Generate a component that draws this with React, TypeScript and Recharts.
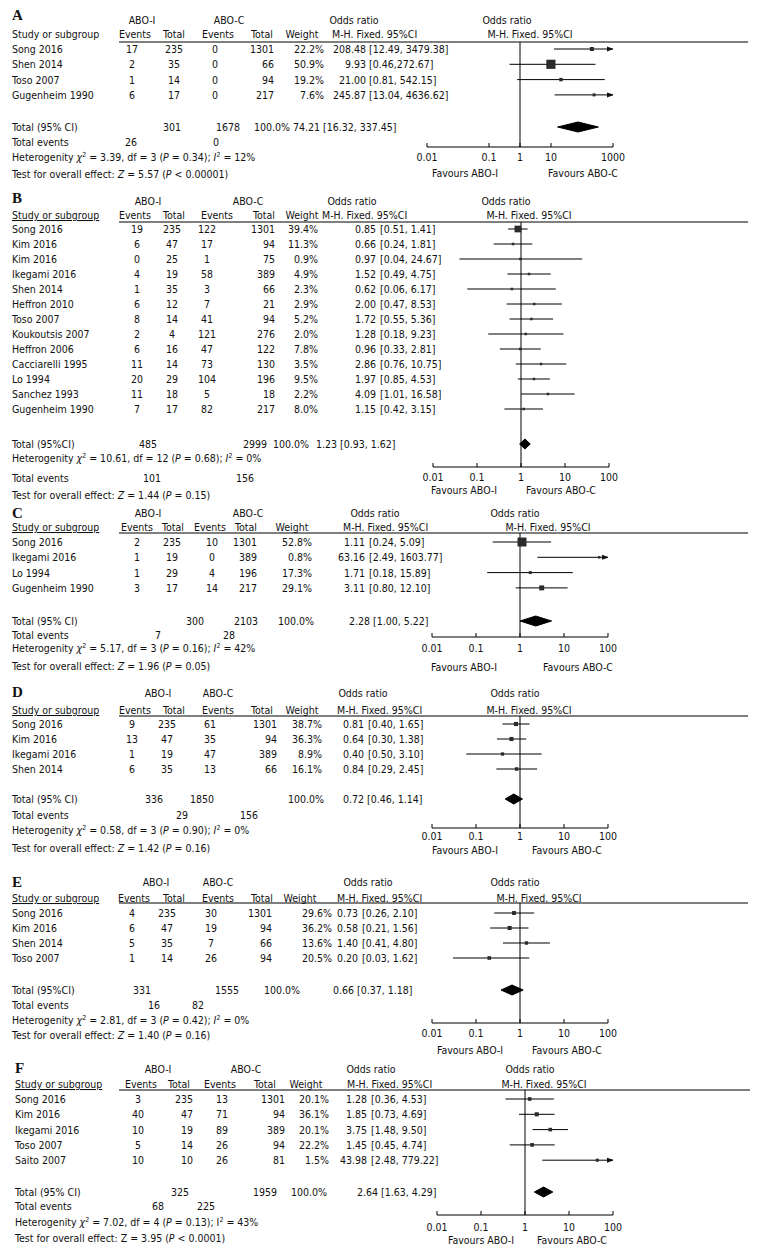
import React from 'react';
import { ComposedChart, Scatter, XAxis, YAxis, ReferenceLine } from 'recharts';

const FONT = '"DejaVu Sans Condensed", "DejaVu Sans", Verdana, sans-serif';
const FS = 10.5;
const INK = '#111';

// ---------- Panel A ----------
const studiesA = ['Song 2016', 'Shen 2014', 'Toso 2007', 'Gugenheim 1990'];
const eventsIA = [17, 2, 1, 6];
const totalIA = [235, 35, 14, 17];
const eventsCA = [0, 0, 0, 0];
const totalCA = [1301, 66, 94, 217];
const weightA = [22.2, 50.9, 19.2, 7.6];
const orA = [208.48, 9.93, 21.0, 245.87];
const loA = [12.49, 0.46, 0.81, 13.04];
const hiA = [3479.38, 272.67, 542.15, 4636.62];
const ciLabelsA = ['[12.49, 3479.38]', '[0.46,272.67]', '[0.81, 542.15]', '[13.04, 4636.62]'];

// ---------- Panel B ----------
const studiesB = ['Song 2016', 'Kim 2016', 'Kim 2016', 'Ikegami 2016', 'Shen 2014', 'Heffron 2010', 'Toso 2007', 'Koukoutsis 2007', 'Heffron 2006', 'Cacciarelli 1995', 'Lo 1994', 'Sanchez 1993', 'Gugenheim 1990'];
const eventsIB = [19, 6, 0, 4, 1, 6, 8, 2, 6, 11, 20, 11, 7];
const totalIB = [235, 47, 25, 19, 35, 12, 14, 4, 16, 14, 29, 18, 17];
const eventsCB = [122, 17, 1, 58, 3, 7, 41, 121, 47, 73, 104, 5, 82];
const totalCB = [1301, 94, 75, 389, 66, 21, 94, 276, 122, 130, 196, 18, 217];
const weightB = [39.4, 11.3, 0.9, 4.9, 2.3, 2.9, 5.2, 2.0, 7.8, 3.5, 9.5, 2.2, 8.0];
const orB = [0.85, 0.66, 0.97, 1.52, 0.62, 2.0, 1.72, 1.28, 0.96, 2.86, 1.97, 4.09, 1.15];
const loB = [0.51, 0.24, 0.04, 0.49, 0.06, 0.47, 0.55, 0.18, 0.33, 0.76, 0.85, 1.01, 0.42];
const hiB = [1.41, 1.81, 24.67, 4.75, 6.17, 8.53, 5.36, 9.23, 2.81, 10.75, 4.53, 16.58, 3.15];

// ---------- Panel C ----------
const studiesC = ['Song 2016', 'Ikegami 2016', 'Lo 1994', 'Gugenheim 1990'];
const eventsIC = [2, 1, 1, 3];
const totalIC = [235, 19, 29, 17];
const eventsCC = [10, 0, 4, 14];
const totalCC = [1301, 389, 196, 217];
const weightC = [52.8, 0.8, 17.3, 29.1];
const orC = [1.11, 63.16, 1.71, 3.11];
const loC = [0.24, 2.49, 0.18, 0.8];
const hiC = [5.09, 1603.77, 15.89, 12.1];

// ---------- Panel D ----------
const studiesD = ['Song 2016', 'Kim 2016', 'Ikegami 2016', 'Shen 2014'];
const eventsID = [9, 13, 1, 6];
const totalID = [235, 47, 19, 35];
const eventsCD = [61, 35, 47, 13];
const totalCD = [1301, 94, 389, 66];
const weightD = [38.7, 36.3, 8.9, 16.1];
const orD = [0.81, 0.64, 0.4, 0.84];
const loD = [0.4, 0.3, 0.06, 0.29]; // plotted lower bounds as drawn
const hiD = [1.65, 1.38, 3.1, 2.45];
const ciLabelsD = ['[0.40, 1.65]', '[0.30, 1.38]', '[0.50, 3.10]', '[0.29, 2.45]'];

// ---------- Panel E ----------
const studiesE = ['Song 2016', 'Kim 2016', 'Shen 2014', 'Toso 2007'];
const eventsIE = [4, 6, 5, 1];
const totalIE = [235, 47, 35, 14];
const eventsCE = [30, 19, 7, 26];
const totalCE = [1301, 94, 66, 94];
const weightE = [29.6, 36.2, 13.6, 20.5];
const orE = [0.73, 0.58, 1.4, 0.2];
const loE = [0.26, 0.21, 0.41, 0.03];
const hiE = [2.1, 1.56, 4.8, 1.62];

// ---------- Panel F ----------
const studiesF = ['Song 2016', 'Kim 2016', 'Ikegami 2016', 'Toso 2007', 'Saito 2007'];
const eventsIF = [3, 40, 10, 5, 10];
const totalIF = [235, 47, 19, 14, 10];
const eventsCF = [13, 71, 89, 26, 26];
const totalCF = [1301, 94, 389, 94, 81];
const weightF = [20.1, 36.1, 20.1, 22.2, 1.5];
const orF = [1.28, 1.85, 3.75, 1.45, 43.98];
const loF = [0.36, 0.73, 1.48, 0.45, 2.48];
const hiF = [4.53, 4.69, 9.5, 4.74, 779.22];

// ---------- Pooled / summary (A..F) ----------
const letters = ['A', 'B', 'C', 'D', 'E', 'F'];
const totalLabels = ['Total (95% CI)', 'Total (95%CI)', 'Total (95% CI)', 'Total (95% CI)', 'Total (95%CI)', 'Total (95% CI)'];
const pooledTotalI = [301, 485, 300, 336, 331, 325];
const pooledTotalC = [1678, 2999, 2103, 1850, 1555, 1959];
const pooledOR = [74.21, 1.23, 2.28, 0.72, 0.66, 2.64];
const pooledLo = [16.32, 0.93, 1.0, 0.46, 0.37, 1.63];
const pooledHi = [337.45, 1.62, 5.22, 1.14, 1.18, 4.29];
const totalEventsI = [26, 101, 7, 29, 16, 68];
const totalEventsC = [0, 156, 28, 156, 82, 225];
const chi2 = ['3.39', '10.61', '5.17', '0.58', '2.81', '7.02'];
const dfs = [3, 12, 3, 3, 3, 4];
const hetP = ['0.34', '0.68', '0.16', '0.90', '0.42', '0.13'];
const i2s = [12, 0, 42, 0, 0, 43];
const zVals = ['5.57', '1.44', '1.96', '1.42', '1.40', '3.95'];
const zP = ['< 0.00001', '= 0.15', '= 0.05', '= 0.16', '= 0.16', '< 0.0001'];

// ---------- Axis ----------
const domainA = [0.001, 1000];
const ticksA = [0.001, 0.1, 1, 10, 1000];
const tickLabelsA = ['0.01', '0.1', '1', '10', '1000'];
const domainStd = [0.01, 100];
const ticksStd = [0.01, 0.1, 1, 10, 100];
const tickLabelsStd = ['0.01', '0.1', '1', '10', '100'];

const ciFmt = (lo: number[], hi: number[]) => lo.map((l, i) => `[${l.toFixed(2)}, ${hi[i].toFixed(2)}]`);

const panels = [
  { studies: studiesA, evI: eventsIA, totI: totalIA, evC: eventsCA, totC: totalCA, weight: weightA, or: orA, lo: loA, hi: hiA, ci: ciLabelsA, domain: domainA, ticks: ticksA, tickLabels: tickLabelsA },
  { studies: studiesB, evI: eventsIB, totI: totalIB, evC: eventsCB, totC: totalCB, weight: weightB, or: orB, lo: loB, hi: hiB, ci: ciFmt(loB, hiB), domain: domainStd, ticks: ticksStd, tickLabels: tickLabelsStd },
  { studies: studiesC, evI: eventsIC, totI: totalIC, evC: eventsCC, totC: totalCC, weight: weightC, or: orC, lo: loC, hi: hiC, ci: ciFmt(loC, hiC), domain: domainStd, ticks: ticksStd, tickLabels: tickLabelsStd },
  { studies: studiesD, evI: eventsID, totI: totalID, evC: eventsCD, totC: totalCD, weight: weightD, or: orD, lo: loD, hi: hiD, ci: ciLabelsD, domain: domainStd, ticks: ticksStd, tickLabels: tickLabelsStd },
  { studies: studiesE, evI: eventsIE, totI: totalIE, evC: eventsCE, totC: totalCE, weight: weightE, or: orE, lo: loE, hi: hiE, ci: ciFmt(loE, hiE), domain: domainStd, ticks: ticksStd, tickLabels: tickLabelsStd },
  { studies: studiesF, evI: eventsIF, totI: totalIF, evC: eventsCF, totC: totalCF, weight: weightF, or: orF, lo: loF, hi: hiF, ci: ciFmt(loF, hiF), domain: domainStd, ticks: ticksStd, tickLabels: tickLabelsStd },
];

// ---------- Layout (pixel positions) ----------
const layouts: any[] = [
  { letterX: 12, letterY: 15, h1Y: 20, h2Y: 34, lineY: 42, row0: 49, rowH: 15.3, totalY: 127, eventsY: 142, hetY: 157, testY: 174, axisY: 147, tickDy: 10, favY: 173,
    studyX: 12, ev1: 132, tot1: 174, tot1A: 'middle', ev2: 215, tot2R: 274, wR: 324, orR: 366, ciL: 369,
    hABOI: 142, hABOC: 229, hOR: 354, hEv1: 135, hTot1: 174, hEv2: 218, hTot2: 262, hW: 302, hMH: 332,
    tTot1: 172, tTot2: 228, tPct: 272, tOR: 293, eEv1: 131, eEv2: 216,
    x0: 427, x1: 613, rOR: 507, rMH: 530, favI: 465, favC: 583, underline: false, lineX1: 748, sqA: 0, sqK: 0.18, sqMin: 3, italic: true },
  { letterX: 12, letterY: 198, h1Y: 201, h2Y: 215, lineY: 222, row0: 229, rowH: 15, totalY: 444, eventsY: 478, hetY: 458, testY: 495, axisY: 467, tickDy: 10, favY: 490,
    studyX: 12, ev1: 137, tot1: 172, tot1A: 'middle', ev2: 207, tot2R: 275, wR: 318, orR: 376, ciL: 380,
    hABOI: 148, hABOC: 248, hOR: 352, hEv1: 135, hTot1: 174, hEv2: 217, hTot2: 264, hW: 302, hMH: 322,
    tTot1: 148, tTot2: 255, tPct: 291, tOR: 316, eEv1: 152, eEv2: 245,
    x0: 433, x1: 609, rOR: 506, rMH: 529, favI: 464, favC: 561, underline: true, lineX1: 748, sqA: 0, sqK: 0.17, sqMin: 2.5, italic: true },
  { letterX: 12, letterY: 513, h1Y: 513, h2Y: 527, lineY: 533, row0: 542, rowH: 15.3, totalY: 621, eventsY: 635, hetY: 648, testY: 666, axisY: 637, tickDy: 11, favY: 667,
    studyX: 12, ev1: 137, tot1: 172, tot1A: 'middle', ev2: 212, tot2R: 257, wR: 312, orR: 365, ciL: 369,
    hABOI: 148, hABOC: 248, hOR: 375, hEv1: 137, hTot1: 173, hEv2: 210, hTot2: 246, hW: 292, hMH: 343,
    tTot1: 195, tTot2: 246, tPct: 296, tOR: 349, eEv1: 158, eEv2: 229,
    x0: 432, x1: 608, rOR: 515, rMH: 548, favI: 464, favC: 578, underline: true, lineX1: 748, sqA: 0, sqK: 0.17, sqMin: 2.5, italic: true },
  { letterX: 12, letterY: 692, h1Y: 693, h2Y: 710, lineY: 716, row0: 724, rowH: 15, totalY: 799, eventsY: 815, hetY: 830, testY: 848, axisY: 828, tickDy: 8, favY: 850,
    studyX: 12, ev1: 132, tot1: 167, tot1A: 'middle', ev2: 210, tot2R: 277, wR: 322, orR: 364, ciL: 368,
    hABOI: 158, hABOC: 218, hOR: 363, hEv1: 135, hTot1: 174, hEv2: 218, hTot2: 262, hW: 302, hMH: 337,
    tTot1: 154, tTot2: 202, tPct: 306, tOR: 343, eEv1: 182, eEv2: 249,
    x0: 432, x1: 608, rOR: 515, rMH: 529, favI: 465, favC: 567, underline: true, lineX1: 748, sqA: 3, sqK: 0.03, sqMin: 3, italic: true },
  { letterX: 12, letterY: 882, h1Y: 882, h2Y: 898, lineY: 903, row0: 913, rowH: 15, totalY: 990, eventsY: 1005, hetY: 1020, testY: 1035, axisY: 1023, tickDy: 10, favY: 1050,
    studyX: 12, ev1: 132, tot1: 167, tot1A: 'middle', ev2: 211, tot2R: 272, wR: 332, orR: 358, ciL: 362,
    hABOI: 156, hABOC: 218, hOR: 368, hEv1: 134, hTot1: 174, hEv2: 218, hTot2: 262, hW: 300, hMH: 337,
    tTot1: 142, tTot2: 227, tPct: 282, tOR: 333, eEv1: 154, eEv2: 198,
    x0: 432, x1: 608, rOR: 515, rMH: 539, favI: 470, favC: 567, underline: true, lineX1: 748, sqA: 3, sqK: 0.03, sqMin: 3, italic: true },
  { letterX: 15, letterY: 1068, h1Y: 1069, h2Y: 1084, lineY: 1090, row0: 1099, rowH: 15.3, totalY: 1192, eventsY: 1206, hetY: 1222, testY: 1238, axisY: 1215, tickDy: 12, favY: 1240,
    studyX: 15, ev1: 138, tot1: 193, tot1A: 'end', ev2: 222, tot2R: 285, wR: 329, orR: 367, ciL: 371,
    hABOI: 158, hABOC: 246, hOR: 371, hEv1: 141, hTot1: 179, hEv2: 220, hTot2: 265, hW: 306, hMH: 347,
    tTot1: 180, tTot2: 265, tPct: 309, tOR: 357, eEv1: 158, eEv2: 206,
    x0: 437, x1: 613, rOR: 530, rMH: 544, favI: 481, favC: 572, underline: true, lineX1: 750, sqA: 3, sqK: 0.03, sqMin: 3, italic: false },
];

const W = 758;
const H = 1257;

function T({ x, y, a = 'start', children, ...rest }: any) {
  return (
    <text x={x} y={y + 4} textAnchor={a} fontSize={FS} fontFamily={FONT} fill={INK} {...rest}>
      {children}
    </text>
  );
}

function PanelText({ idx }: any) {
  const p: any = panels[idx];
  const L = layouts[idx];
  const it = L.italic ? 'italic' : 'normal';
  const rowY = (i: number) => L.row0 + i * L.rowH;
  return (
    <g>
      <text x={L.letterX} y={L.letterY + 5} fontSize={15} fontWeight="bold" fontFamily='"Liberation Serif", "DejaVu Serif", serif' fill={INK}>
        {letters[idx]}
      </text>
      <T x={L.hABOI} y={L.h1Y} a="middle">ABO-I</T>
      <T x={L.hABOC} y={L.h1Y} a="middle">ABO-C</T>
      <T x={L.hOR} y={L.h1Y} a="middle">Odds ratio</T>
      <T x={L.rOR} y={L.h1Y} a="middle">Odds ratio</T>
      <T x={L.studyX} y={L.h2Y} textDecoration={L.underline ? 'underline' : 'none'}>Study or subgroup</T>
      <T x={L.hEv1} y={L.h2Y} a="middle">Events</T>
      <T x={L.hTot1} y={L.h2Y} a="middle">Total</T>
      <T x={L.hEv2} y={L.h2Y} a="middle">Events</T>
      <T x={L.hTot2} y={L.h2Y} a="middle">Total</T>
      <T x={L.hW} y={L.h2Y} a="middle">Weight</T>
      <T x={L.hMH} y={L.h2Y}>M-H. Fixed. 95%CI</T>
      <T x={L.rMH} y={L.h2Y} a="middle">M-H. Fixed. 95%CI</T>
      <line x1={119} x2={L.lineX1} y1={L.lineY} y2={L.lineY} stroke="#000" strokeWidth={1} />
      {p.studies.map((s: string, i: number) => (
        <g key={i}>
          <T x={L.studyX} y={rowY(i)}>{s}</T>
          <T x={L.ev1} y={rowY(i)} a="middle">{p.evI[i]}</T>
          <T x={L.tot1} y={rowY(i)} a={L.tot1A}>{p.totI[i]}</T>
          <T x={L.ev2} y={rowY(i)} a="middle">{p.evC[i]}</T>
          <T x={L.tot2R} y={rowY(i)} a="end">{p.totC[i]}</T>
          <T x={L.wR} y={rowY(i)} a="end">{p.weight[i].toFixed(1) + '%'}</T>
          <T x={L.orR} y={rowY(i)} a="end">{p.or[i].toFixed(2)}</T>
          <T x={L.ciL} y={rowY(i)}>{p.ci[i]}</T>
        </g>
      ))}
      <T x={L.studyX} y={L.totalY}>{totalLabels[idx]}</T>
      <T x={L.tTot1} y={L.totalY} a="middle">{pooledTotalI[idx]}</T>
      <T x={L.tTot2} y={L.totalY} a="middle">{pooledTotalC[idx]}</T>
      <T x={L.tPct} y={L.totalY} a="middle">100.0%</T>
      <T x={L.tOR} y={L.totalY}>{`${pooledOR[idx].toFixed(2)} [${pooledLo[idx].toFixed(2)}, ${pooledHi[idx].toFixed(2)}]`}</T>
      <T x={L.studyX} y={L.eventsY}>Total events</T>
      <T x={L.eEv1} y={L.eventsY} a="middle">{totalEventsI[idx]}</T>
      <T x={L.eEv2} y={L.eventsY} a="middle">{totalEventsC[idx]}</T>
      <T x={L.studyX} y={L.hetY}>
        <tspan>Heterogenity </tspan>
        <tspan fontStyle="italic">χ</tspan>
        <tspan dy={-4} fontSize={7}>2</tspan>
        <tspan dy={4}>{` = ${chi2[idx]}, df = ${dfs[idx]} (`}</tspan>
        <tspan fontStyle="italic">P</tspan>
        <tspan>{` = ${hetP[idx]}); `}</tspan>
        <tspan fontStyle={it}>I</tspan>
        <tspan dy={-4} fontSize={7}>2</tspan>
        <tspan dy={4}>{` = ${i2s[idx]}%`}</tspan>
      </T>
      <T x={L.studyX} y={L.testY}>
        <tspan>Test for overall effect: </tspan>
        <tspan fontStyle={it}>Z</tspan>
        <tspan>{` = ${zVals[idx]} (`}</tspan>
        <tspan fontStyle="italic">P</tspan>
        <tspan>{` ${zP[idx]})`}</tspan>
      </T>
      <T x={L.favI} y={L.favY} a="middle">Favours ABO-I</T>
      <T x={L.favC} y={L.favY} a="middle">Favours ABO-C</T>
    </g>
  );
}

function Forest({ idx }: any) {
  const p: any = panels[idx];
  const L = layouts[idx];
  const plotH = L.axisY - L.lineY;
  const chartH = plotH + 30;
  const yTop = (L.lineY - L.row0) / L.rowH;
  const yBot = (L.axisY - L.row0) / L.rowH;
  const totIdx = (L.totalY - L.row0) / L.rowH;
  const [dMin, dMax] = p.domain;
  const clamp = (v: number) => Math.min(dMax, Math.max(dMin, v));
  const squares = p.or.map((v: number, i: number) => ({ x: v, y: i, w: p.weight[i] }));
  const arrows = p.hi
    .map((v: number, i: number) => ({ v, i }))
    .filter((d: any) => d.v > dMax)
    .map((d: any) => ({ x: dMax, y: d.i }));
  const dh = 5 / L.rowH;
  const diamond = [
    { x: pooledLo[idx], y: totIdx },
    { x: pooledOR[idx], y: totIdx - dh },
    { x: pooledHi[idx], y: totIdx },
    { x: pooledOR[idx], y: totIdx + dh },
    { x: pooledLo[idx], y: totIdx },
  ];
  const SquareShape = (props: any) => {
    const { cx, cy, payload } = props;
    const s = Math.max(L.sqMin, L.sqA + L.sqK * payload.w);
    return <rect x={cx - s / 2} y={cy - s / 2} width={s} height={s} fill="#2b2b2b" />;
  };
  const ArrowShape = (props: any) => {
    const { cx, cy } = props;
    return <path d={`M${cx + 1},${cy} L${cx - 6},${cy - 2.5} L${cx - 6},${cy + 2.5} Z`} fill="#111" />;
  };
  const Tick = (props: any) => {
    const { x, y, payload } = props;
    const k = p.ticks.indexOf(payload.value);
    return (
      <g>
        <line x1={x} x2={x} y1={y} y2={y - 4} stroke="#000" />
        <text x={x} y={y + L.tickDy + 4} textAnchor="middle" fontSize={FS} fontFamily={FONT} fill={INK}>
          {p.tickLabels[k]}
        </text>
      </g>
    );
  };
  return (
    <div style={{ position: 'absolute', left: 0, top: L.lineY, width: W, height: chartH }}>
      <ComposedChart width={W} height={chartH} margin={{ top: 0, right: W - L.x1, bottom: 0, left: L.x0 }}>
        <XAxis
          type="number"
          dataKey="x"
          scale="log"
          domain={p.domain}
          allowDataOverflow
          ticks={p.ticks}
          interval={0}
          tickSize={0}
          tickMargin={0}
          tickLine={false}
          height={30}
          axisLine={{ stroke: '#000', strokeWidth: 1 }}
          tick={Tick}
        />
        <YAxis type="number" dataKey="y" domain={[yTop, yBot]} reversed hide width={0} allowDataOverflow />
        <ReferenceLine x={1} stroke="#000" strokeWidth={1} ifOverflow="visible" />
        {p.lo.map((lo: number, i: number) => (
          <ReferenceLine
            key={i}
            segment={[{ x: clamp(lo), y: i }, { x: clamp(p.hi[i]), y: i }]}
            stroke="#000"
            strokeWidth={1}
            ifOverflow="visible"
          />
        ))}
        <Scatter data={squares} shape={SquareShape} isAnimationActive={false} />
        <Scatter data={arrows} shape={ArrowShape} isAnimationActive={false} />
        <Scatter
          data={diamond}
          line={{ stroke: '#000', fill: '#000', strokeWidth: 1 }}
          lineType="joint"
          shape={() => <g />}
          isAnimationActive={false}
        />
      </ComposedChart>
    </div>
  );
}

export default function App() {
  return (
    <div style={{ position: 'absolute', left: 0, top: 0, width: W, height: H, background: '#fff', overflow: 'hidden' }}>
      {panels.map((_, i) => (
        <Forest key={i} idx={i} />
      ))}
      <svg width={W} height={H} style={{ position: 'absolute', left: 0, top: 0, pointerEvents: 'none' }}>
        {panels.map((_, i) => (
          <PanelText key={i} idx={i} />
        ))}
      </svg>
    </div>
  );
}
